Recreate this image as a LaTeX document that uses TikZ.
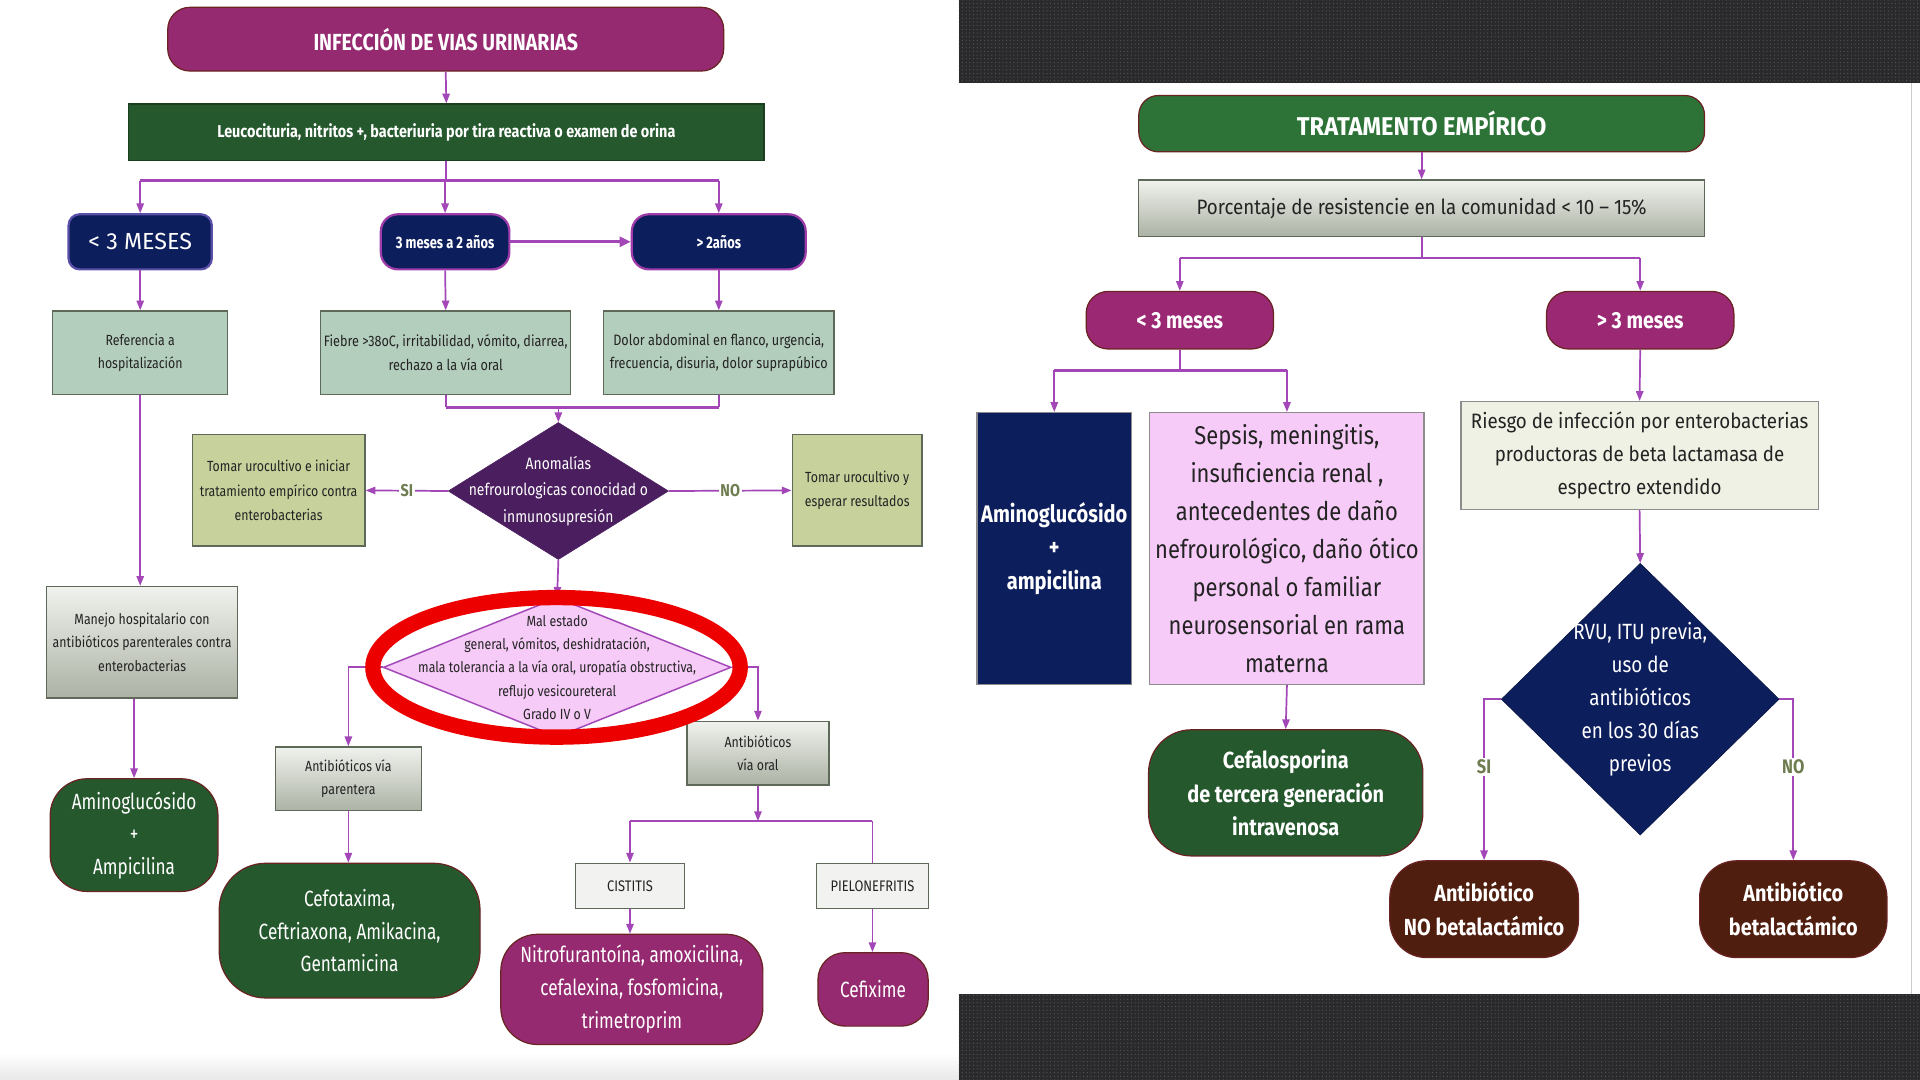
\documentclass[tikz,border=0pt]{standalone}
\usepackage{fontspec}
\setmainfont{Fira Sans}
\newfontfamily\fcnd{Fira Sans}[FakeStretch=0.78]
\newfontfamily\fsm{Fira Sans}[FakeStretch=0.84]
\newfontfamily\fmb{Fira Sans}[FakeStretch=0.855]
\newfontfamily\fmidw{Fira Sans}[FakeStretch=0.90]
\newfontfamily\fwide{Fira Sans}[FakeStretch=0.92]
\usetikzlibrary{arrows.meta,shapes.geometric,patterns,calc}
\newcommand\fsz[2]{\fontsize{#1}{#2}\selectfont}
\definecolor{cmag}{RGB}{150,42,112}
\definecolor{cmagb}{RGB}{155,40,115}
\definecolor{cdgreen}{RGB}{37,88,45}
\definecolor{cgreenb}{RGB}{45,115,55}
\definecolor{cnavy}{RGB}{13,30,92}
\definecolor{csage}{RGB}{180,206,190}
\definecolor{colive}{RGB}{198,209,156}
\definecolor{cdpurp}{RGB}{75,30,95}
\definecolor{cpink}{RGB}{246,203,247}
\definecolor{cbrown}{RGB}{80,30,15}
\definecolor{colight}{RGB}{238,241,227}
\definecolor{clgray}{RGB}{242,242,240}
\definecolor{gtop}{RGB}{240,242,237}
\definecolor{gbot}{RGB}{172,178,165}
\definecolor{cpurp}{RGB}{163,70,184}
\definecolor{cred}{RGB}{236,0,0}
\definecolor{clbl}{RGB}{110,125,80}
\definecolor{ctext}{RGB}{35,35,35}
\definecolor{cbord}{RGB}{95,105,90}
\definecolor{cpillb}{RGB}{105,35,35}
\definecolor{cband}{RGB}{42,42,45}
\definecolor{cdots}{RGB}{88,88,92}
\definecolor{cblueb}{RGB}{90,80,170}
\definecolor{cmagbd}{RGB}{160,60,170}
\begin{document}
\begin{tikzpicture}[x=1pt,y=-1pt,
  conn/.style={draw=cpurp, line width=1.4pt},
  arr/.style={conn, -{Triangle[length=8pt,width=6pt]}},
  trunk/.style={draw=cpurp, line width=2.6pt},
  box/.style={rectangle, draw=cbord, line width=1.1pt, align=center, inner sep=0pt, text=ctext},
  gbox/.style={box, top color=gtop, bottom color=gbot},
  pillbox/.style={rectangle, rounded corners=#1, draw=cpillb, line width=1pt, align=center, inner sep=0pt, text=white},
  pillbox/.default=20pt,
  navybox/.style={rectangle, fill=cnavy, line width=1.8pt, align=center, inner sep=0pt, text=white},
  lbl/.style={fill=white, text=clbl, inner sep=1.5pt, font=\fsm\bfseries\fsz{14}{16}},
  rlbl/.style={fill=white, text=clbl, inner sep=1.5pt, font=\fsm\bfseries\fsz{16}{18}},
  dtext/.style={align=center, inner sep=0pt}
]
\useasboundingbox (0,0) rectangle (1568,882);
% backgrounds
\fill[white] (0,0) rectangle (1568,882);
\shade[top color=white, bottom color=black!9] (0,860) rectangle (783,882);
\fill[cband] (783,0) rectangle (1568,68);
\fill[pattern=dots, pattern color=cdots] (783,0) rectangle (1568,68);
\fill[cband] (783,812) rectangle (1568,882);
\fill[pattern=dots, pattern color=cdots] (783,812) rectangle (1568,882);
\draw[black!20, line width=1pt] (1561,68) -- (1561,812);

% ================= LEFT =================
\node[pillbox=18pt, fill=cmag, minimum width=454, minimum height=52, font=\fsm\bfseries\fsz{19}{21}] (title) at (364,32) {INFECCIÓN DE VIAS URINARIAS};
\node[box, fill=cdgreen, draw=cdgreen!70!black, minimum width=519, minimum height=46, text=white, font=\fsm\bfseries\fsz{14}{16}] (leuco) at (364.5,108) {Leucocituria, nitritos +, bacteriuria por tira reactiva o examen de orina};

\node[navybox, rounded corners=9pt, draw=cblueb, minimum width=117, minimum height=45, font=\fsz{19}{21}] (lt3) at (114.5,197.5) {< 3 MESES};
\node[navybox, rounded corners=14pt, draw=cmagbd, minimum width=105, minimum height=45, font=\fcnd\bfseries\fsz{13.5}{15}] (m32) at (363.5,197.5) {3 meses a 2 años};
\node[navybox, rounded corners=14pt, draw=cmagbd, minimum width=142, minimum height=45, font=\fcnd\bfseries\fsz{13.5}{15}] (gt2) at (587,197.5) {> 2años};

\node[box, fill=csage, minimum width=143, minimum height=68, font=\fsm\fsz{12}{19}] (ref) at (114.5,288) {Referencia a\\hospitalización};
\node[box, fill=csage, minimum width=204, minimum height=68, font=\fsm\fsz{12.3}{19}] (fiebre) at (364,288) {Fiebre >38oC, irritabilidad, vómito, diarrea,\\rechazo a la vía oral};
\node[box, fill=csage, minimum width=188, minimum height=68, font=\fsm\fsz{12.3}{19}] (dolor) at (587,288) {Dolor abdominal en flanco, urgencia,\\frecuencia, disuria, dolor suprapúbico};

\node[diamond, fill=cdpurp, draw=cdpurp, minimum width=180, minimum height=112, inner sep=0pt] (anom) at (456,401) {};
\node[dtext, text=white, font=\fsm\fsz{13.5}{21.5}] (anomt) at (anom.center) {Anomalías\\nefrourologicas conocidad o\\inmunosupresión};

\node[box, fill=colive, minimum width=141, minimum height=91, font=\fsm\fsz{12}{20}] (tomar1) at (227.5,400.5) {Tomar urocultivo e iniciar\\tratamiento empírico contra\\enterobacterias};
\node[box, fill=colive, minimum width=106, minimum height=91, font=\fsm\fsz{12}{20}] (tomar2) at (700,400.5) {Tomar urocultivo y\\esperar resultados};

\node[gbox, minimum width=156, minimum height=91, font=\fsm\fsz{12}{19}] (manejo) at (116,524.5) {Manejo hospitalario con\\antibióticos parenterales contra\\enterobacterias};
\node[pillbox=30pt, fill=cdgreen, minimum width=137, minimum height=92, font=\fcnd\fsz{18}{26.5}] (amino) at (109.5,682) {Aminoglucósido\\+\\Ampicilina};

\node[diamond, fill=cpink, draw=cpurp, line width=1.2pt, minimum width=284, minimum height=114, inner sep=0pt] (mal) at (455,545) {};
\node[dtext, text=ctext, font=\fsm\fsz{12}{19}] (malt) at (mal.center) {Mal estado\\general, vómitos, deshidratación,\\mala tolerancia a la vía oral, uropatía obstructiva,\\reflujo vesicoureteral\\Grado IV o V};

\node[gbox, minimum width=119, minimum height=52, font=\fsm\fsz{12}{19}] (parent) at (284.5,636) {Antibióticos vía\\parentera};
\node[gbox, minimum width=116, minimum height=52, font=\fsm\fsz{12}{19}] (oral) at (619,615) {Antibióticos\\vía oral};
\node[pillbox=38pt, fill=cdgreen, minimum width=213, minimum height=110, font=\fcnd\fsz{18}{26.5}] (cefo) at (285.5,760) {Cefotaxima,\\Ceftriaxona, Amikacina,\\Gentamicina};
\node[box, fill=clgray, minimum width=89, minimum height=37, font=\fsm\fsz{12.5}{14}] (cist) at (514.5,723.5) {CISTITIS};
\node[box, fill=clgray, minimum width=91, minimum height=37, font=\fsm\fsz{12.5}{14}] (pielo) at (712.5,723.5) {PIELONEFRITIS};
\node[pillbox=30pt, fill=cmag, minimum width=214, minimum height=90, font=\fcnd\fsz{18}{27}] (nitro) at (516,808) {Nitrofurantoína, amoxicilina,\\cefalexina, fosfomicina,\\trimetroprim};
\node[pillbox=22pt, fill=cmag, minimum width=90, minimum height=60, font=\fcnd\fsz{18}{20}] (cefix) at (713,808) {Cefixime};

% left connectors
\draw[arr] (title.south) -- (leuco.north);
\draw[conn] (leuco.south) -- ++(0,16) coordinate (j1);
\draw[trunk] (lt3.north |- j1) -- (gt2.north |- j1);
\draw[arr] (lt3.north |- j1) -- (lt3.north);
\draw[arr] (m32.north |- j1) -- (m32.north);
\draw[arr] (gt2.north |- j1) -- (gt2.north);
\draw[trunk, -{Triangle[length=9pt,width=8pt]}] (m32.east) -- (gt2.west);
\draw[arr] (lt3.south) -- (ref.north);
\draw[arr] (m32.south) -- (fiebre.north);
\draw[arr] (gt2.south) -- (dolor.north);
\draw[conn] (fiebre.south) -- ++(0,10) coordinate (j2);
\draw[conn] (dolor.south) -- (dolor.south |- j2);
\draw[trunk] (fiebre.south |- j2) -- (dolor.south |- j2);
\draw[arr] (anom.north |- j2) -- (anom.north);
\draw[arr] (anom.west) -- node[lbl]{SI} (tomar1.east);
\draw[arr] (anom.east) -- node[lbl]{NO} (tomar2.west);
\draw[arr] (ref.south) -- (ref.south |- manejo.north);
\draw[arr] (amino.north |- manejo.south) -- (amino.north);
\draw[arr] (anom.south) -- (mal.north);
\draw[arr] (mal.west) -| (parent.north);
\draw[arr] (mal.east) -| (oral.north);
\draw[arr] (parent.south) -- (parent.south |- cefo.north);
\draw[arr] (oral.south) -- ++(0,29) coordinate (j3);
\draw[conn] (cist.north |- j3) -- (pielo.north |- j3);
\draw[arr] (cist.north |- j3) -- (cist.north);
\draw[conn] (pielo.north |- j3) -- (pielo.north);
\draw[arr] (cist.south) -- (cist.south |- nitro.north);
\draw[arr] (pielo.south) -- (pielo.south |- cefix.north);

% red highlight ellipse
\draw[cred, line width=12.5pt] (454.5,545) ellipse [x radius=150, y radius=57];

% ================= RIGHT =================
\node[pillbox=16pt, fill=cgreenb, minimum width=462, minimum height=46, font=\fwide\bfseries\fsz{21}{23}] (tit2) at (1161,101) {TRATAMENTO EMPÍRICO};
\node[gbox, minimum width=462, minimum height=46, font=\fmidw\fsz{17}{19}] (porc) at (1161,170) {Porcentaje de resistencie en la comunidad < 10 – 15\%};
\node[pillbox=18pt, fill=cmagb, minimum width=153, minimum height=47, font=\fsm\bfseries\fsz{19}{21}] (rl3) at (963.5,261.5) {< 3 meses};
\node[pillbox=18pt, fill=cmagb, minimum width=153, minimum height=47, font=\fsm\bfseries\fsz{19}{21}] (rg3) at (1339.5,261.5) {> 3 meses};
\node[box, fill=cnavy, draw=black!45, text=white, minimum width=126, minimum height=222, font=\fsm\bfseries\fsz{19.5}{27.5}] (navy) at (861,448) {Aminoglucósido\\+\\ampicilina};
\node[box, fill=cpink, draw=black!45, minimum width=224, minimum height=222, font=\fmb\fsz{21}{31}] (sepsis) at (1051,448) {Sepsis, meningitis,\\insuficiencia renal ,\\antecedentes de daño\\nefrourológico, daño ótico\\personal o familiar\\neurosensorial en rama\\materna};
\node[pillbox=35pt, fill=cdgreen, minimum width=224, minimum height=103, font=\fmb\bfseries\fsz{19}{27.5}] (cefal) at (1050,647.5) {Cefalosporina\\de tercera generación\\intravenosa};
\node[box, fill=colight, draw=black!45, minimum width=292, minimum height=88, font=\fmidw\fsz{17}{27}] (riesgo) at (1339,372) {Riesgo de infección por enterobacterias\\productoras de beta lactamasa de\\espectro extendido};
\node[diamond, fill=cnavy, draw=cnavy!70!black, minimum width=227, minimum height=222, inner sep=0pt] (rvu) at (1339.5,571) {};
\node[dtext, text=white, font=\fmb\fsz{18}{27}] (rvut) at (rvu.center) {RVU, ITU previa,\\uso de\\antibióticos\\en los 30 días\\previos};
\node[pillbox=30pt, fill=cbrown, minimum width=154, minimum height=79, font=\fmb\bfseries\fsz{19}{28}] (anb1) at (1212,742.5) {Antibiótico\\NO betalactámico};
\node[pillbox=30pt, fill=cbrown, minimum width=153, minimum height=79, font=\fmb\bfseries\fsz{19}{28}] (anb2) at (1464.5,742.5) {Antibiótico\\betalactámico};

% right connectors
\draw[arr] (tit2.south) -- (porc.north);
\draw[conn] (porc.south) -- ++(0,17) coordinate (j5);
\draw[conn, line width=1.8pt] (rl3.north |- j5) -- (rg3.north |- j5);
\draw[arr] (rl3.north |- j5) -- (rl3.north);
\draw[arr] (rg3.north |- j5) -- (rg3.north);
\draw[conn] (rl3.south) -- ++(0,17) coordinate (j6);
\draw[conn, line width=1.8pt] (navy.north |- j6) -- (sepsis.north |- j6);
\draw[arr] (navy.north |- j6) -- (navy.north);
\draw[arr] (sepsis.north |- j6) -- (sepsis.north);
\draw[arr] (sepsis.south) -- (cefal.north);
\draw[arr] (rg3.south) -- (riesgo.north);
\draw[arr] (riesgo.south) -- (rvu.north);
\draw[arr] (rvu.west) -| node[rlbl, pos=0.71]{SI} (anb1.north);
\draw[arr] (rvu.east) -| node[rlbl, pos=0.71]{NO} (anb2.north);
\end{tikzpicture}
\end{document}
